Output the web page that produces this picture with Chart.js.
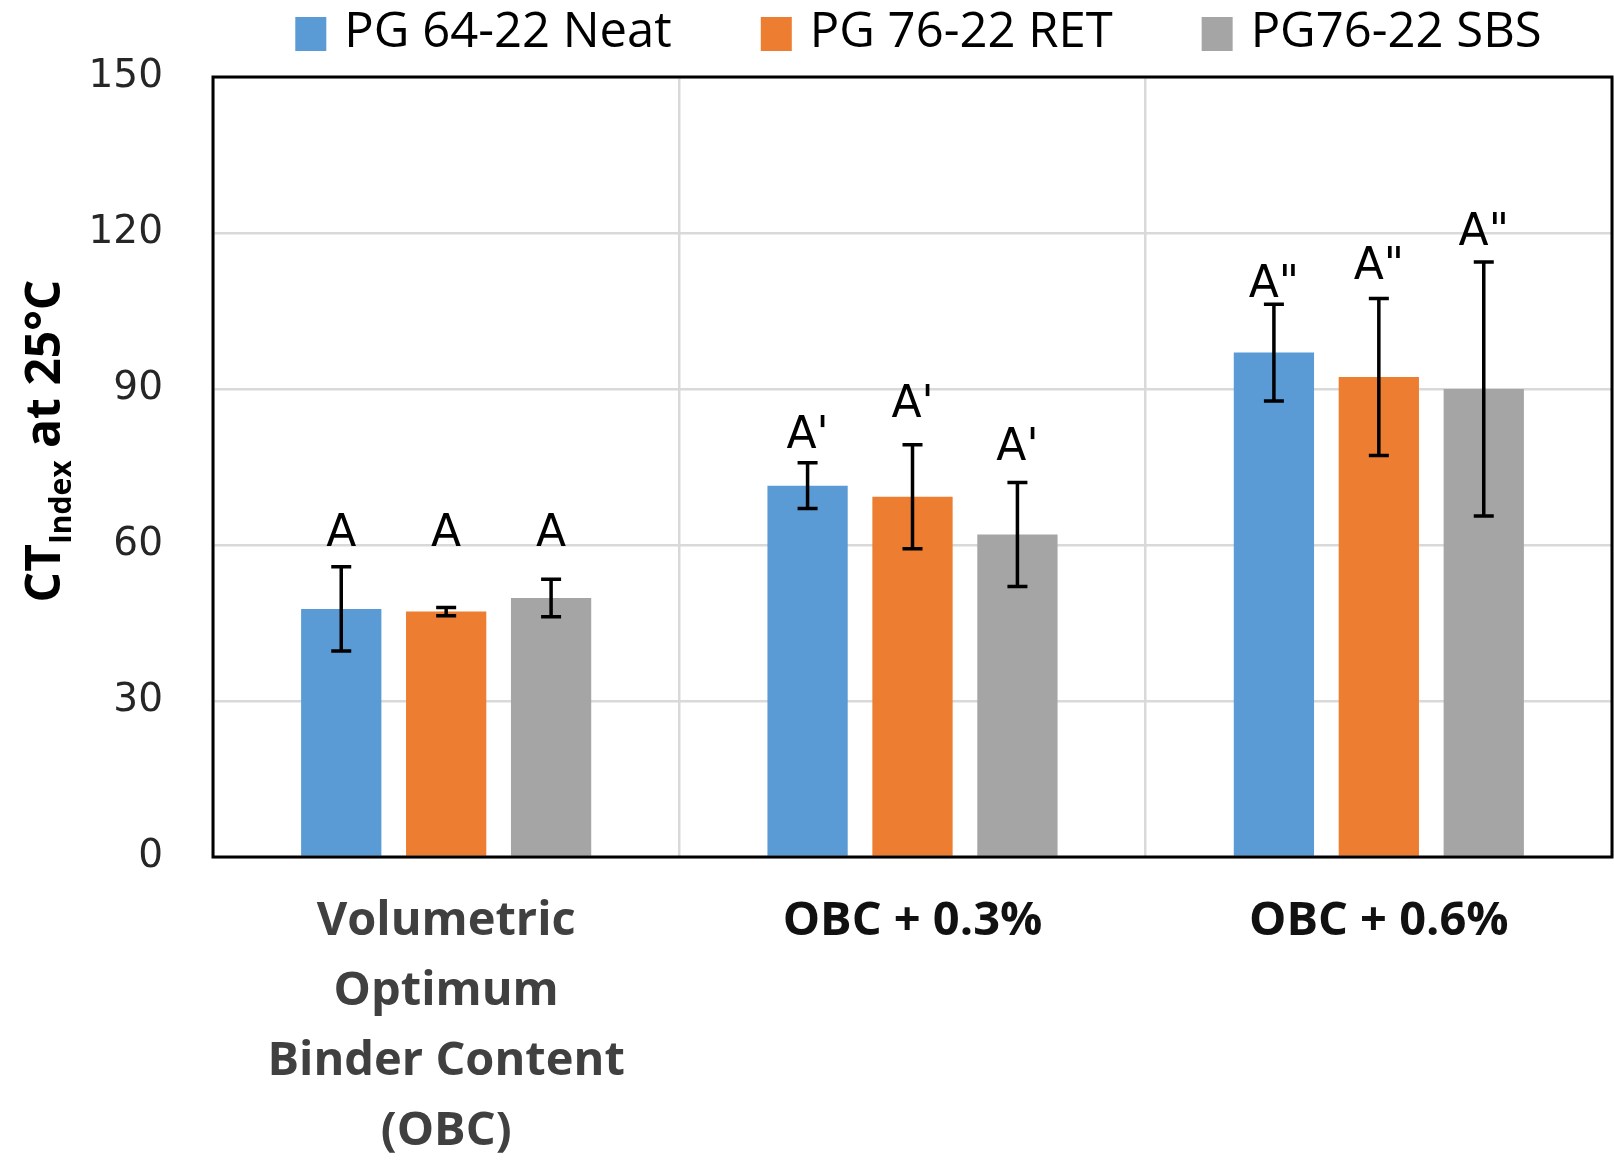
<!DOCTYPE html>
<html>
<head>
<meta charset="utf-8">
<script src="https://cdn.jsdelivr.net/npm/chart.js@4.4.1/dist/chart.umd.min.js"></script>
<style>
  html, body { margin: 0; padding: 0; background: #ffffff; }
  #wrap { width: 1614px; height: 1160px; }
</style>
</head>
<body>
<div id="wrap"><canvas id="c" width="1614" height="1160"></canvas></div>
<script>
// ---------- data ----------
const categories = [["Volumetric", "Optimum", "Binder Content", "(OBC)"], "OBC + 0.3%", "OBC + 0.6%"];
const seriesNames = ["PG 64-22 Neat", "PG 76-22 RET", "PG76-22 SBS"];
const neat = [47.7, 71.4, 97.0];
const ret  = [47.2, 69.3, 92.3];
const sbs  = [49.8, 62.0, 90.0];
const errNeat = [8.1, 4.4, 9.3];
const errRet  = [0.8, 10.0, 15.1];
const errSbs  = [3.6, 10.0, 24.4];
const groupLetters = ["A", "A'", "A\""];
const letterPosNeat = [59.8, 78.7, 107.7];
const letterPosRet  = [59.8, 84.7, 111.1];
const letterPosSbs  = [59.8, 76.4, 117.7];
const yMin = 0, yMax = 150, yStep = 30;
const yTitleMain = "CT", yTitleSub = "Index", yTitleRest = " at 25°C";

const colors = ["#5B9BD5", "#ED7D31", "#A5A5A5"];
const errors = [errNeat, errRet, errSbs];
const letterPos = [letterPosNeat, letterPosRet, letterPosSbs];

// ---------- plugins ----------
const errorBarPlugin = {
  id: 'errorBars',
  afterDatasetsDraw(chart) {
    const ctx = chart.ctx;
    const yScale = chart.scales.y;
    ctx.save();
    ctx.strokeStyle = '#000000';
    ctx.lineWidth = 3.5;
    chart.data.datasets.forEach((ds, di) => {
      const meta = chart.getDatasetMeta(di);
      meta.data.forEach((bar, i) => {
        const v = ds.data[i];
        const e = errors[di][i];
        const yHi = yScale.getPixelForValue(v + e);
        const yLo = yScale.getPixelForValue(v - e);
        const x = bar.x;
        const cap = 10;
        ctx.beginPath();
        ctx.moveTo(x, yHi); ctx.lineTo(x, yLo);
        ctx.moveTo(x - cap, yHi); ctx.lineTo(x + cap, yHi);
        ctx.moveTo(x - cap, yLo); ctx.lineTo(x + cap, yLo);
        ctx.stroke();
      });
    });
    // letters
    ctx.fillStyle = '#000000';
    ctx.font = '44px "DejaVu Sans"';
    ctx.textAlign = 'center';
    ctx.textBaseline = 'alphabetic';
    chart.data.datasets.forEach((ds, di) => {
      const meta = chart.getDatasetMeta(di);
      meta.data.forEach((bar, i) => {
        const y = yScale.getPixelForValue(letterPos[di][i]);
        ctx.fillText(groupLetters[i], bar.x, y);
      });
    });
    // frame
    const a = chart.chartArea;
    ctx.strokeStyle = '#000000';
    ctx.lineWidth = 3;
    ctx.strokeRect(a.left, a.top, a.right - a.left, a.bottom - a.top);
    ctx.restore();
  }
};

const legendAndTitlePlugin = {
  id: 'customLegendTitle',
  afterDraw(chart) {
    const ctx = chart.ctx;
    const a = chart.chartArea;
    ctx.save();
    // legend
    ctx.font = '49px "Open Sans"';
    const boxW = 31, boxH = 34, boxGap = 18, itemGap = 89;
    const items = chart.data.datasets.map(ds => ({text: ds.label, color: ds.backgroundColor, w: ctx.measureText(ds.label).width}));
    let total = 0;
    items.forEach((it, i) => { total += boxW + boxGap + it.w + (i < items.length - 1 ? itemGap : 0); });
    let x = (a.left + a.right) / 2 - total / 2 + 6;
    const baseY = a.top - 30;
    ctx.textAlign = 'left';
    ctx.textBaseline = 'alphabetic';
    items.forEach(it => {
      ctx.fillStyle = it.color;
      ctx.fillRect(x, a.top - 60, boxW, boxH);
      ctx.fillStyle = '#000000';
      ctx.fillText(it.text, x + boxW + boxGap, baseY);
      x += boxW + boxGap + it.w + itemGap;
    });
    // y-axis title with subscript
    const mainFont = 'bold 48px "Open Sans"';
    const subFont = 'bold 30px "Open Sans"';
    ctx.font = mainFont;
    const w1 = ctx.measureText(yTitleMain).width;
    const w3 = ctx.measureText(yTitleRest).width;
    ctx.font = subFont;
    const w2 = ctx.measureText(yTitleSub).width;
    const tw = w1 + w2 + w3;
    const cy = (a.top + a.bottom) / 2 - 26;
    ctx.translate(a.left - 153, cy + tw / 2);
    ctx.rotate(-Math.PI / 2);
    ctx.fillStyle = '#000000';
    ctx.font = mainFont;
    ctx.fillText(yTitleMain, 0, 0);
    ctx.font = subFont;
    ctx.fillText(yTitleSub, w1, 11);
    ctx.font = mainFont;
    ctx.fillText(yTitleRest, w1 + w2, 0);
    ctx.restore();
  }
};

// ---------- chart ----------
new Chart(document.getElementById('c'), {
  type: 'bar',
  data: {
    labels: categories,
    datasets: [
      { label: seriesNames[0], data: neat, backgroundColor: colors[0] },
      { label: seriesNames[1], data: ret,  backgroundColor: colors[1] },
      { label: seriesNames[2], data: sbs,  backgroundColor: colors[2] }
    ]
  },
  options: {
    responsive: false,
    devicePixelRatio: 1,
    animation: false,
    layout: { padding: { top: 77, right: 2, bottom: 0, left: 0 } },
    datasets: { bar: { categoryPercentage: 0.675, barPercentage: 0.765 } },
    plugins: {
      legend: { display: false },
      tooltip: { enabled: false },
      title: { display: false }
    },
    scales: {
      x: {
        grid: { display: true, offset: true, color: '#D9D9D9', lineWidth: 2.5, drawTicks: false },
        border: { display: false },
        ticks: {
          autoSkip: false,
          maxRotation: 0,
          minRotation: 0,
          padding: 30,
          font: { family: '"Open Sans"', weight: 'bold', size: 47, lineHeight: '70px' },
          color: (c) => c.index === 0 ? '#404040' : '#111111'
        },
        afterFit(scale) { scale.height = 303; }
      },
      y: {
        min: yMin,
        max: yMax,
        ticks: {
          stepSize: yStep,
          padding: 50,
          font: { family: '"DejaVu Sans"', size: 39 },
          color: '#262626'
        },
        grid: { color: '#D9D9D9', lineWidth: 2.5, drawTicks: false },
        border: { display: false },
        afterFit(scale) { scale.width = 213; }
      }
    }
  },
  plugins: [errorBarPlugin, legendAndTitlePlugin]
});
</script>
</body>
</html>
